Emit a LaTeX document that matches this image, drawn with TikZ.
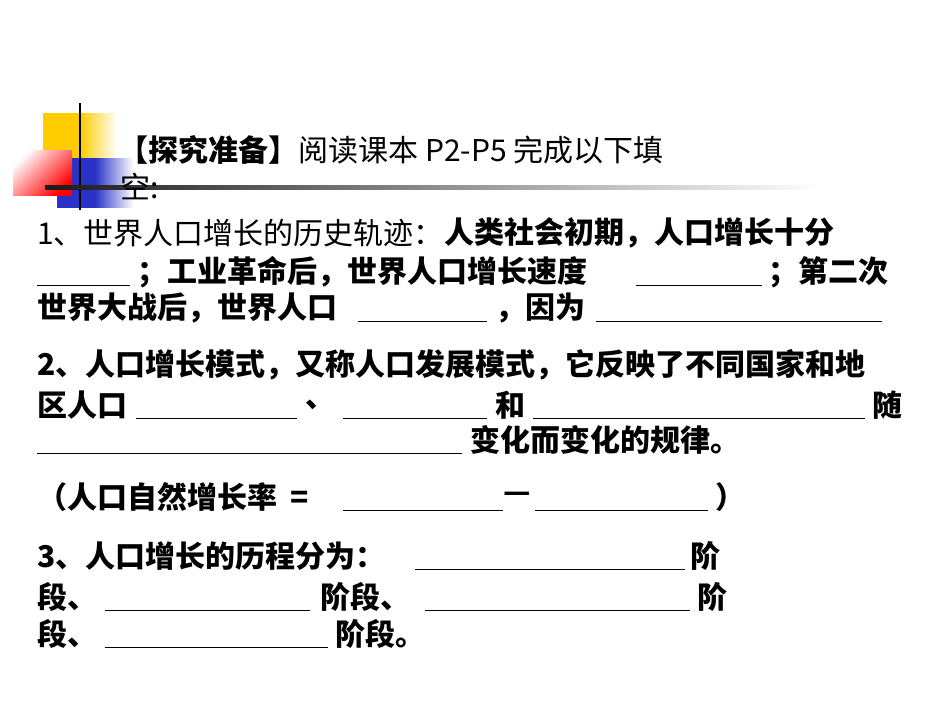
\documentclass[tikz,border=0pt]{standalone}
\usepackage{fontspec}
\setmainfont{Noto Sans CJK SC}
\definecolor{gold}{RGB}{255,204,0}
\definecolor{sqblue}{RGB}{40,50,200}
\begin{document}
\begin{tikzpicture}[x=1pt,y=-1pt,
  txt/.style={anchor=west,inner sep=0pt,font=\fontsize{30}{36}\selectfont},
  bt/.style={txt,font=\fontsize{30}{36}\selectfont\bfseries},
  ul/.style={line width=1pt}]
\useasboundingbox (0,0) rectangle (950,713);
\fill[white] (0,0) rectangle (950,713);
% decoration
\shade[left color=gold, right color=white, middle color=gold] (43,113) rectangle (117,158);
\shade[left color=sqblue, right color=white, middle color=sqblue] (57,158) rectangle (133,207);
\shade[left color=white, right color=red, shading angle=45] (13,150) rectangle (72,195);
\draw[line width=2.5pt] (80,103) -- (80,210);
\shade[left color=black!90, right color=white] (45,185) rectangle (820,189.5);
% title
\node[bt] (t1) at (118,150) {【探究准备】};
\node[txt] (t2) at (t1.east) [anchor=west] {阅读课本 P2-P5 完成以下填};
\node[txt] (t3) at (120,186) {空:};
% line 1
\node[txt] (a1) at (37,233) {1、世界人口增长的历史轨迹：};
\node[bt] (a2) at (a1.east) [anchor=west] {人类社会初期，人口增长十分};
\draw[ul] (37,285) -- (130,285);
\node[bt] (b1) at (137,272) {；工业革命后，世界人口增长速度};
\draw[ul] (636,285) -- (762,285);
\node[bt] (b2) at (768,272) {；第二次};
\node[bt] (c1) at (37,308) {世界大战后，世界人口};
\draw[ul] (358,321) -- (487,321);
\node[bt] (c2) at (495,308) {，因为};
\draw[ul] (596,321) -- (882,321);
% line 2
\node[bt] (d1) at (37,365) {2、人口增长模式，又称人口发展模式，它反映了不同国家和地};
\node[bt] (e1) at (37,405) {区人口};
\draw[ul] (136,418) -- (297,418);
\node[bt] (e2) at (305,405) {、};
\draw[ul] (343,418) -- (487,418);
\node[bt] (e3) at (495,405) {和};
\draw[ul] (533,418) -- (865,418);
\node[bt] (e4) at (872,405) {随};
\draw[ul] (37,453) -- (462,453);
\node[bt] (f1) at (470,440) {变化而变化的规律。};
\node[bt] (g1) at (37,497) {（人口自然增长率\ \ =};
\draw[ul] (343,510) -- (503,510);
\node[bt] (g2) at (503,497) {—};
\draw[ul] (535,510) -- (708,510);
\node[bt] (g3) at (715,497) {）};
% line 3
\node[bt] (h1) at (37,556) {3、人口增长的历程分为：};
\draw[ul] (415,569) -- (685,569);
\node[bt] (h2) at (690,556) {阶};
\node[bt] (i1) at (37,597) {段、};
\draw[ul] (105,610) -- (310,610);
\node[bt] (i2) at (320,597) {阶段、};
\draw[ul] (425,610) -- (690,610);
\node[bt] (i3) at (697,597) {阶};
\node[bt] (j1) at (37,634) {段、};
\draw[ul] (105,647) -- (328,647);
\node[bt] (j2) at (335,634) {阶段。};
\end{tikzpicture}
\end{document}
